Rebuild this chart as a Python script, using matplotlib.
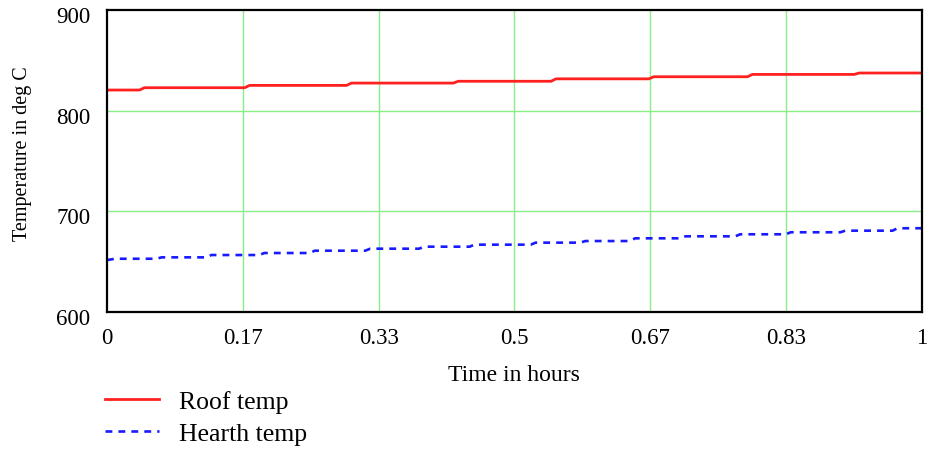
import numpy as np
import matplotlib
matplotlib.use("Agg")
import matplotlib.pyplot as plt
from matplotlib.transforms import ScaledTranslation

plt.rcParams['font.family'] = ['Liberation Serif', 'DejaVu Serif']

# roof temperature: level changes (hours) and levels (deg C)
roof_step_t = [0.043, 0.172, 0.297, 0.428, 0.548, 0.668, 0.789, 0.920]
roof_levels = [820.5, 822.8, 825.1, 827.4, 829.2, 831.6, 833.7, 836.0, 837.4]

# hearth temperature
hearth_start = 651.6
hearth_step_t = [0.064, 0.125, 0.190, 0.252, 0.320, 0.386, 0.448, 0.523,
                 0.584, 0.645, 0.707, 0.774, 0.836, 0.903, 0.967]
hearth_levels = [652.9, 654.3, 656.6, 658.6, 660.9, 662.9, 664.9, 666.9,
                 668.9, 670.5, 673.2, 675.2, 677.2, 679.2, 680.8, 683.2]

xtick_pos = [0, 1/6, 2/6, 3/6, 4/6, 5/6, 1]
xtick_lab = ["0", "0.17", "0.33", "0.5", "0.67", "0.83", "1"]
ytick_pos = [600, 700, 800, 900]

ramp = 0.006  # width of each small transition


def step_line(step_t, levels, first=None):
    t = [0.0]
    v = [levels[0] if first is None else first]
    if first is not None:
        t.append(0.01)
        v.append(levels[0])
    for i, s in enumerate(step_t):
        t += [s - ramp / 2, s + ramp / 2]
        v += [levels[i], levels[i + 1]]
    t.append(1.0)
    v.append(levels[-1])
    return np.array(t), np.array(v)


fig = plt.figure(figsize=(9.35, 4.52), dpi=100)
ax = fig.add_axes([0.1144, 0.3075, 0.8716, 0.6682])

rt, rv = step_line(roof_step_t, roof_levels)
ht, hv = step_line(hearth_step_t, hearth_levels, first=hearth_start)

l1, = ax.plot(rt, rv, color='#ff2020', lw=2.0, label='Roof temp')
l2, = ax.plot(ht, hv, color='#1a1aff', lw=1.9, ls=(0, (2.6, 2.3)), label='Hearth temp')

ax.set_xlim(0, 1)
ax.set_ylim(600, 900)
ax.set_xticks(xtick_pos)
ax.set_xticklabels(xtick_lab)
ax.set_yticks(ytick_pos)
ax.tick_params(length=0, labelsize=16.5)
ax.tick_params(axis='x', pad=11)
ax.tick_params(axis='y', pad=12)
for lab in ax.get_yticklabels():
    lab.set_transform(lab.get_transform() + ScaledTranslation(0, -0.04, fig.dpi_scale_trans))

for x in xtick_pos[1:-1]:
    ax.axvline(x, color='#88ee88', lw=1.0, zorder=0)
for y in ytick_pos[1:-1]:
    ax.axhline(y, color='#88ee88', lw=1.0, zorder=0)

for sp in ax.spines.values():
    sp.set_linewidth(1.6)

ax.set_xlabel('Time in hours', fontsize=17, labelpad=11)
ax.set_ylabel('Temperature in deg C', fontsize=14.5, va='center')
ax.yaxis.set_label_coords(-0.104, 0.527)

fig.legend(handles=[l1, l2], loc='upper left', bbox_to_anchor=(0.112, 0.135),
           frameon=False, fontsize=18.5, handlelength=2.1, handletextpad=0.8,
           labelspacing=0.35, borderpad=0, borderaxespad=0)

fig.savefig('out.png', dpi=100)
